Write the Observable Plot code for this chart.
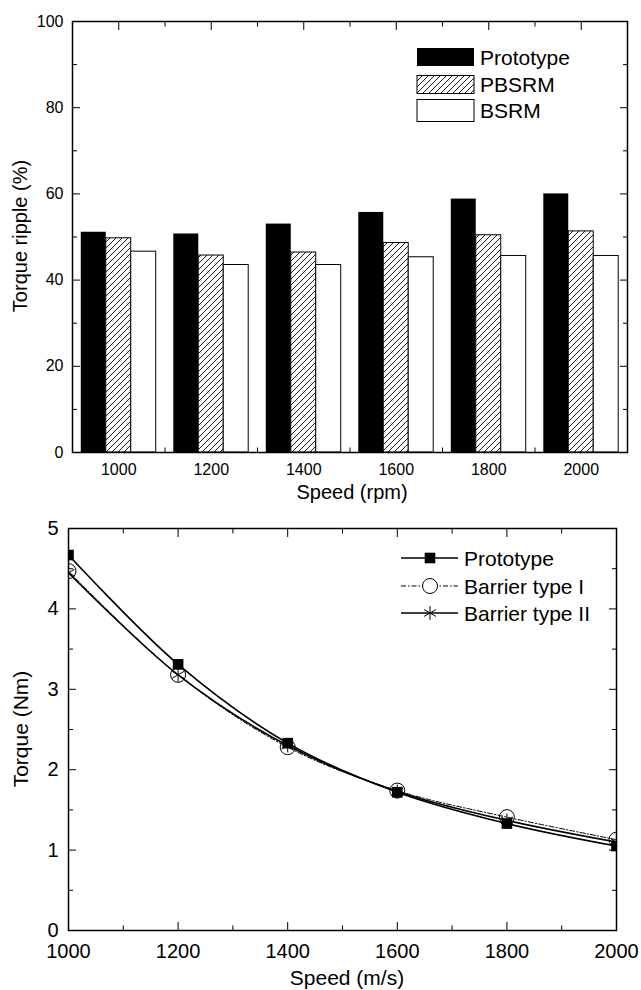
<!DOCTYPE html>
<html><head><meta charset="utf-8">
<script src="https://cdn.jsdelivr.net/npm/d3@7"></script>
<script src="https://cdn.jsdelivr.net/npm/@observablehq/plot@0.6"></script>
<style>
body{margin:0;background:#fff;}
#wrap{width:641px;}
svg{display:block;}
</style></head><body><div id="wrap"></div>
<script>
// ---------- data ----------
const speeds = [1000, 1200, 1400, 1600, 1800, 2000];
const rippleSeries = ["Prototype", "PBSRM", "BSRM"];
const rippleProto = [51.1, 50.7, 53.0, 55.7, 58.8, 60.0];
const ripplePBSRM = [49.7, 45.7, 46.4, 48.6, 50.4, 51.3];
const rippleBSRM  = [46.6, 43.5, 43.5, 45.3, 45.6, 45.6];

const torqueSeries = ["Prototype", "Barrier type I", "Barrier type II"];
const torqueProto = [4.67, 3.31, 2.33, 1.72, 1.33, 1.05];
const torqueType1 = [4.47, 3.18, 2.28, 1.74, 1.41, 1.13];
const torqueType2 = [4.45, 3.18, 2.30, 1.73, 1.37, 1.10];

const speedLabels = [1000, 1200, 1400, 1600, 1800, 2000];
const speedMinor = [1100, 1300, 1500, 1700, 1900];
const rippleTicks = [0, 20, 40, 60, 80, 100];
const rippleMinor = [10, 30, 50, 70, 90];
const torqueTicks = [0, 1, 2, 3, 4, 5];
const torqueMinor = [0.5, 1.5, 2.5, 3.5, 4.5];

const FONT = "'Liberation Sans', Arial, Helvetica, sans-serif";
const BAR_W = 54; // bar width in speed units
const fmt = d => String(d);

function rows(values, k) { return speeds.map((s, i) => ({speed: s, value: values[i], k})); }
const rippleRows = [rows(rippleProto, 0), rows(ripplePBSRM, 1), rows(rippleBSRM, 2)];
const barFills = ["black", "url(#hatch)", "white"];

function tickAxes(xMaj, xMin, yMaj, yMin) {
  const o = {fill: "none", label: null, strokeWidth: 1};
  return [
    Plot.axisX(xMaj, {...o, anchor: "bottom", tickSize: -8}),
    Plot.axisX(xMin, {...o, anchor: "bottom", tickSize: -4.5}),
    Plot.axisX(xMaj, {...o, anchor: "top", tickSize: -8}),
    Plot.axisX(xMin, {...o, anchor: "top", tickSize: -4.5}),
    Plot.axisY(yMaj, {...o, anchor: "left", tickSize: -8}),
    Plot.axisY(yMin, {...o, anchor: "left", tickSize: -5}),
    Plot.axisY(yMaj, {...o, anchor: "right", tickSize: -8}),
    Plot.axisY(yMin, {...o, anchor: "right", tickSize: -5})
  ];
}

// ---------- top chart: torque ripple bars ----------
const topPlot = Plot.plot({
  width: 641, height: 505,
  marginTop: 21, marginBottom: 53, marginLeft: 72, marginRight: 14,
  style: {fontFamily: FONT, fontSize: "16px", color: "black", background: "white"},
  x: {type: "linear", domain: [900, 2100], label: null},
  y: {domain: [0, 100], label: null},
  marks: [
    ...tickAxes(speedLabels, speedMinor, rippleTicks, rippleMinor),
    ...rippleRows.map((data, k) => Plot.rect(data, {
      x1: d => d.speed + (d.k - 1.5) * BAR_W,
      x2: d => d.speed + (d.k - 0.5) * BAR_W,
      y1: 0, y2: "value",
      fill: barFills[k], stroke: "black", strokeWidth: k === 0 ? 0 : 1
    })),
    Plot.axisX(speedLabels, {anchor: "bottom", tickSize: 0, tickPadding: 11, label: null, tickFormat: fmt}),
    Plot.axisY(rippleTicks, {anchor: "left", tickSize: 0, tickPadding: 9, label: null, tickFormat: fmt}),
    Plot.frame({strokeWidth: 1.5})
  ]
});

// ---------- bottom chart: torque vs speed ----------
const tP = rows(torqueProto, 0), t1 = rows(torqueType1, 1), t2 = rows(torqueType2, 2);
const botPlot = Plot.plot({
  width: 641, height: 485,
  marginTop: 23, marginBottom: 60, marginLeft: 68, marginRight: 25,
  style: {fontFamily: FONT, fontSize: "20px", color: "black", background: "white"},
  x: {domain: [1000, 2000], label: null},
  y: {domain: [0, 5], label: null},
  marks: [
    ...tickAxes(speedLabels, speedMinor, torqueTicks, torqueMinor),
    Plot.line(t1, {x: "speed", y: "value", curve: "catmull-rom", stroke: "black", strokeWidth: 1, strokeDasharray: "5,2,1.5,2"}),
    Plot.line(t2, {x: "speed", y: "value", curve: "catmull-rom", stroke: "black", strokeWidth: 1.6}),
    Plot.line(tP, {x: "speed", y: "value", curve: "catmull-rom", stroke: "black", strokeWidth: 1.6}),
    Plot.dot(tP, {x: "speed", y: "value", symbol: "square", fill: "black", r: 6, clip: true}),
    Plot.dot(t1, {x: "speed", y: "value", symbol: "circle", stroke: "black", fill: "none", strokeWidth: 1, r: 7.5, clip: true}),
    Plot.dot(t2, {x: "speed", y: "value", symbol: "asterisk", stroke: "black", strokeWidth: 1, r: 6.5, clip: true}),
    Plot.axisX(speedLabels, {anchor: "bottom", tickSize: 0, tickPadding: 13, label: null, tickFormat: fmt}),
    Plot.axisY(torqueTicks, {anchor: "left", tickSize: 0, tickPadding: 10, label: null, tickFormat: fmt}),
    Plot.frame({strokeWidth: 1.5})
  ]
});

const wrap = document.getElementById("wrap");
wrap.appendChild(topPlot);
wrap.appendChild(botPlot);

// hatch pattern
const ts = d3.select(topPlot);
const defs = ts.insert("defs", ":first-child");
const pat = defs.append("pattern").attr("id", "hatch").attr("patternUnits", "userSpaceOnUse")
  .attr("width", 6).attr("height", 6);
pat.append("rect").attr("width", 6).attr("height", 6).attr("fill", "white");
pat.append("path").attr("d", "M-1,1 l2,-2 M0,6 l6,-6 M5,7 l2,-2").attr("stroke", "black").attr("stroke-width", 0.9);

function txt(sel, x, y, s, size, opts = {}) {
  const t = sel.append("text").attr("x", x).attr("y", y).text(s)
    .style("font-family", FONT).style("font-size", size + "px").attr("fill", "black")
    .attr("text-anchor", opts.anchor || "start");
  if (opts.rotate) t.attr("transform", `rotate(-90 ${x} ${y})`);
  if (opts.central) t.attr("dominant-baseline", "central");
  return t;
}

// top titles
txt(ts, 20, 236, "Torque ripple (%)", 20, {anchor: "middle", rotate: true, central: true});
txt(ts, 352, 499, "Speed (rpm)", 20, {anchor: "middle"});
// top legend
const legY = [57, 84.5, 110.5];
rippleSeries.forEach((name, k) => {
  const h = k === 2 ? 22 : 18;
  ts.append("rect").attr("x", 417).attr("y", legY[k] - h / 2).attr("width", 57).attr("height", h)
    .attr("fill", barFills[k]).attr("stroke", "black").attr("stroke-width", k === 0 ? 0 : 1);
  txt(ts, 480, legY[k], name, 21, {central: true});
});

// bottom titles
const bs = d3.select(botPlot);
txt(bs, 20, 224, "Torque (Nm)", 21, {anchor: "middle", rotate: true, central: true});
txt(bs, 347, 480, "Speed (m/s)", 21, {anchor: "middle"});
// bottom legend
const legY2 = [53, 81, 108];
torqueSeries.forEach((name, k) => {
  const l = bs.append("line").attr("x1", 401).attr("x2", 458).attr("y1", legY2[k]).attr("y2", legY2[k])
    .attr("stroke", "black").attr("stroke-width", k === 1 ? 1 : 1.6);
  if (k === 1) l.attr("stroke-dasharray", "5,2,1.5,2");
  const sym = [d3.symbolSquare, d3.symbolCircle, d3.symbolAsterisk][k];
  const rr = [6, 7.5, 6.5][k];
  bs.append("path").attr("d", d3.symbol(sym, Math.PI * rr * rr)())
    .attr("transform", `translate(430,${legY2[k]})`)
    .attr("fill", k === 0 ? "black" : (k === 1 ? "white" : "none"))
    .attr("stroke", "black").attr("stroke-width", k === 0 ? 0 : 1);
  txt(bs, 464, legY2[k], name, 21, {central: true});
});
</script>
</body></html>
